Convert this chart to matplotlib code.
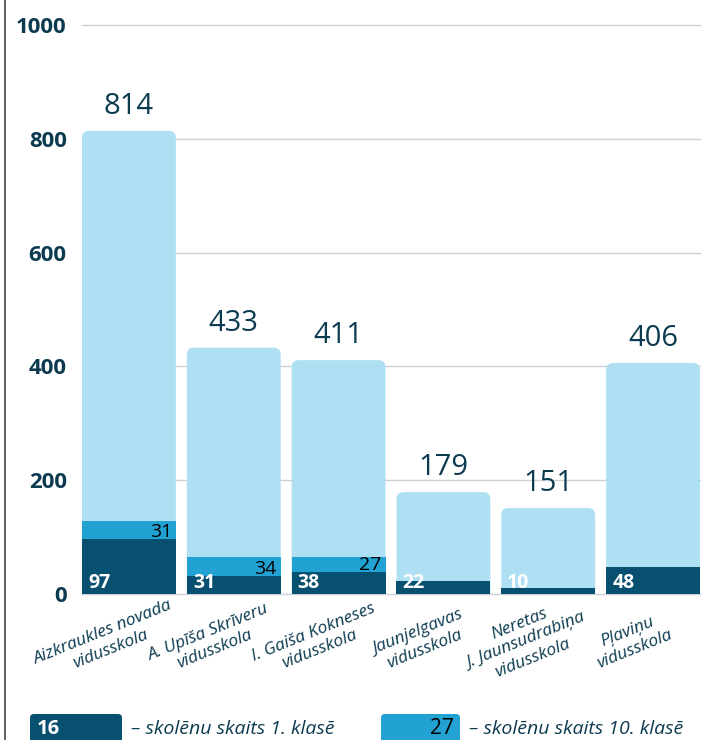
import matplotlib
matplotlib.use("Agg")
import matplotlib.pyplot as plt
from matplotlib.patches import FancyBboxPatch
from matplotlib.lines import Line2D
from matplotlib.transforms import offset_copy

plt.rcParams['font.family'] = ['Open Sans', 'DejaVu Sans']

schools = ['Aizkraukles novada\nvidusskola', 'A. Upīša Skrīveru\nvidusskola',
           'I. Gaiša Kokneses\nvidusskola', 'Jaunjelgavas\nvidusskola',
           'Neretas\nJ. Jaunsudrabiņa\nvidusskola', 'Pļaviņu\nvidusskola']
total = [814, 433, 411, 179, 151, 406]
grade1 = [97, 31, 38, 22, 10, 48]
grade10 = [31, 34, 27, 0, 0, 0]
yticks = [0, 200, 400, 600, 800, 1000]

DARK = '#08506f'
MID = '#22a1d3'
LIGHT = '#aedff2'
TXT = '#0c3b50'
GRID = '#c9d1d9'

W, H = 705, 740
fig = plt.figure(figsize=(W / 100, H / 100), dpi=100)
# axes box in pixels: left 82, right 700, top 25, bottom 594
ax = fig.add_axes([82 / W, 1 - 594 / H, 618 / W, 569 / H])

bw = 94 / 105
x = list(range(len(schools)))
ax.set_xlim(-bw / 2, len(schools) - 1 + bw / 2)
ax.set_ylim(0, 1000)

# aspect for rounded corners
px_x = 618 / (len(schools) - 1 + bw)
px_y = 569 / 1000
aspect = px_x / px_y
r = 7 / px_x

for i, t in enumerate(total):
    p = FancyBboxPatch((i - bw / 2, -60), bw, t + 60,
                       boxstyle=f"round,pad=0,rounding_size={r}",
                       mutation_aspect=aspect, fc=LIGHT, ec='none', zorder=2)
    ax.add_patch(p)

ax.bar(x, grade10, bw, bottom=grade1, color=MID, zorder=3)
ax.bar(x, grade1, bw, color=DARK, zorder=4)

for yv in yticks:
    ax.axhline(yv, color=GRID, lw=1, zorder=1, clip_on=False)

for s in ax.spines.values():
    s.set_visible(False)
ax.set_yticks(yticks)
ax.set_yticklabels([str(v) for v in yticks], fontsize=16, fontweight='bold', color=TXT)
ax.tick_params(axis='y', length=0, pad=11)
ax.set_xticks([])

for i in x:
    ax.text(i, total[i], str(total[i]), ha='center', va='bottom', fontsize=21,
            color=TXT, zorder=5,
            transform=offset_copy(ax.transData, fig=fig, y=10, units='dots'))
    ax.text(i - bw / 2, 0, str(grade1[i]), ha='left', va='bottom', fontsize=14,
            fontweight='bold', color='white', zorder=5,
            transform=offset_copy(ax.transData, fig=fig, x=6, y=1, units='dots'))
    if grade10[i]:
        ax.text(i + bw / 2, grade1[i], str(grade10[i]), ha='right', va='baseline',
                fontsize=14, color='black', zorder=5,
                transform=offset_copy(ax.transData, fig=fig, x=-4, y=2, units='dots'))
    ax.text(i, 0, schools[i], ha='center', va='center', rotation=22,
            rotation_mode='anchor', multialignment='center', fontsize=12.5,
            style='italic', color=TXT, clip_on=False,
            transform=offset_copy(ax.transData, fig=fig, x=-22, y=-47, units='dots'))

# overlay in pixel coords for frame line and legend
ov = fig.add_axes([0, 0, 1, 1], zorder=-1)
ov.set_xlim(0, W)
ov.set_ylim(H, 0)
ov.axis('off')
ov.add_line(Line2D([5, 5], [0, H], color='#555555', lw=1.3))

ov.add_patch(FancyBboxPatch((30, 714), 92, 40, boxstyle="round,pad=0,rounding_size=4",
                            fc=DARK, ec='none'))
ov.text(37, 729, '16', ha='left', va='center', fontsize=14.5, fontweight='bold', color='white')
ov.text(131, 729, '– skolēnu skaits 1. klasē', ha='left', va='center', fontsize=14,
        style='italic', color=TXT)
ov.add_patch(FancyBboxPatch((381, 714), 79, 40, boxstyle="round,pad=0,rounding_size=4",
                            fc=MID, ec='none'))
ov.text(454, 729, '27', ha='right', va='center', fontsize=15, color='black')
ov.text(469, 729, '– skolēnu skaits 10. klasē', ha='left', va='center', fontsize=14,
        style='italic', color=TXT)

fig.savefig('out.png', dpi=100)
